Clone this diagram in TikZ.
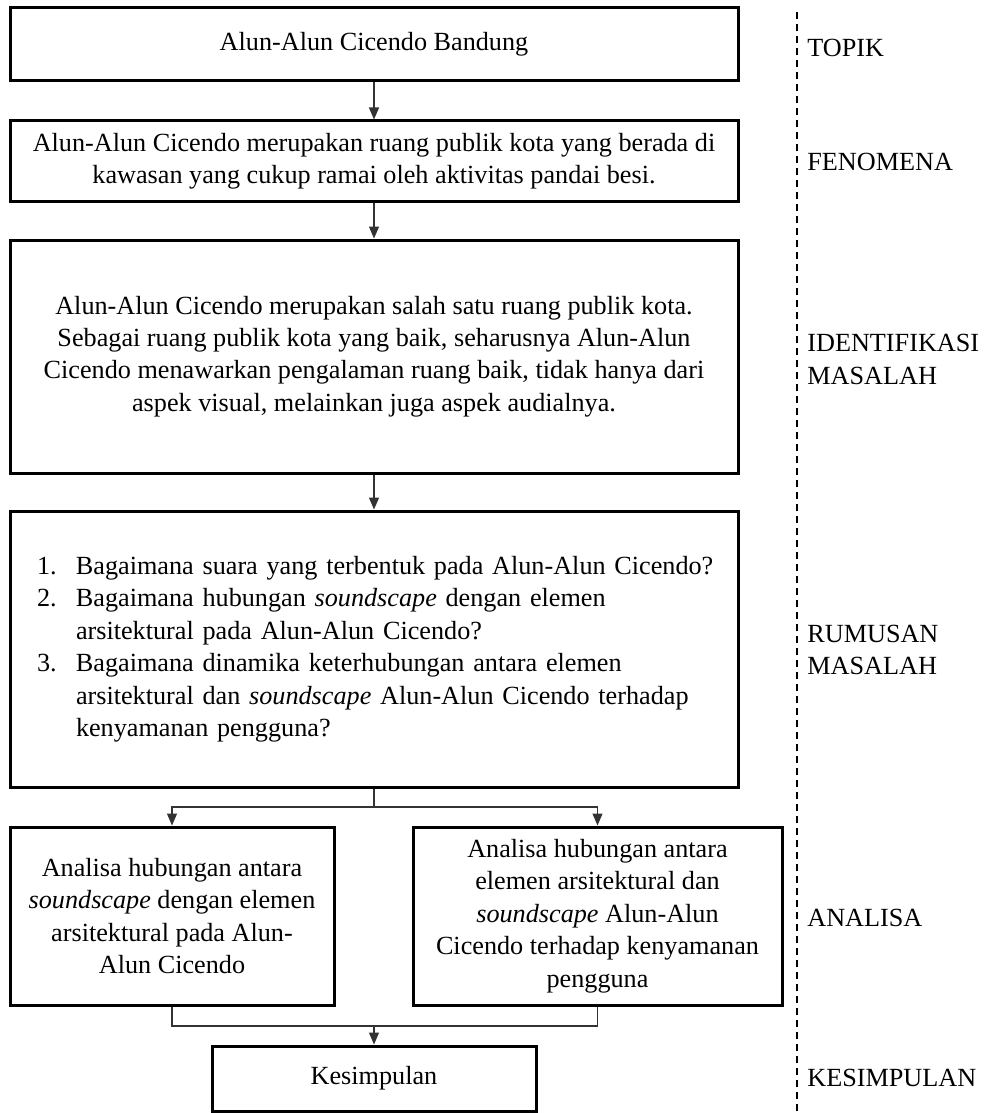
\documentclass[tikz,border=0pt]{standalone}
\usepackage{fontspec}
\setmainfont{Liberation Serif}
\usetikzlibrary{arrows.meta}

\begin{document}
\begin{tikzpicture}[
  x=0.5pt, y=-0.5pt,
  font=\fontsize{13.1}{16.2}\selectfont,
  >={Triangle[length=6pt,width=5pt]},
  box/.style={draw=black, line width=1.5pt, align=center, inner sep=0pt},
  wbox/.style={box, minimum width=364pt},
  arrow/.style={->, line width=0.6pt, black!80},
  link/.style={line width=0.6pt, black!80},
  stage/.style={anchor=west, align=left, inner sep=0pt},
  divider/.style={line width=1pt, dash pattern=on 3.5pt off 2.5pt}
]
\useasboundingbox (0,0) rectangle (985,1113);

% ---------- MAIN COLUMN ----------
\node[wbox, minimum height=36.5pt] (topik) at (374,44.5) {Alun-Alun Cicendo Bandung};
\node[wbox, minimum height=40pt] (fenomena) at (374,161)
  {Alun-Alun Cicendo merupakan ruang publik kota yang berada di\\kawasan yang cukup ramai oleh aktivitas pandai besi.};
\node[wbox, minimum height=116.5pt] (identifikasi) at (374,356.5)
  {Alun-Alun Cicendo merupakan salah satu ruang publik kota.\\Sebagai ruang publik kota yang baik, seharusnya Alun-Alun\\Cicendo menawarkan pengalaman ruang baik, tidak hanya dari\\aspek visual, melainkan juga aspek audialnya.};
\node[wbox, minimum height=138pt, text width=337pt, align=left, inner xsep=13.5pt] (rumusan) at (374,649)
  {\begin{tabular}{@{}p{19.5pt}@{}l@{}}
   1. & Bagaimana suara yang terbentuk pada Alun-Alun Cicendo?\\
   2. & Bagaimana hubungan \textit{soundscape} dengan elemen\\
      & arsitektural pada Alun-Alun Cicendo?\\
   3. & Bagaimana dinamika keterhubungan antara elemen\\
      & arsitektural dan \textit{soundscape} Alun-Alun Cicendo terhadap\\
      & kenyamanan pengguna?
   \end{tabular}};

% ---------- ANALISA ----------
\node[box, minimum width=162pt, minimum height=89pt] (analisa1) at (172,916)
  {Analisa hubungan antara\\\textit{soundscape} dengan elemen\\arsitektural pada Alun-\\Alun Cicendo};
\node[box, minimum width=184.5pt, minimum height=89pt] (analisa2) at (597.5,916)
  {Analisa hubungan antara\\elemen arsitektural dan\\\textit{soundscape} Alun-Alun\\Cicendo terhadap kenyamanan\\pengguna};
\node[box, minimum width=162pt, minimum height=32.5pt] (kesimpulan) at (374,1078.5) {Kesimpulan};

\coordinate (split) at (374,807);
\coordinate (merge) at (374,1026);

% arrows
\draw[arrow] (topik) -- (fenomena);
\draw[arrow] (fenomena) -- (identifikasi);
\draw[arrow] (identifikasi) -- (rumusan);
\draw[link] (rumusan) -- (split);
\draw[arrow] (split) -| (analisa1);
\draw[arrow] (split) -| (analisa2);
\draw[link] (analisa1) |- (merge);
\draw[link] (analisa2) |- (merge);
\draw[arrow] (merge) -- (kesimpulan);

% ---------- STAGES ----------
\coordinate (dtop) at (797,12);
\coordinate (dbot) at (797,1113);
\draw[divider] (dtop) -- (dbot);

\node[stage] (ltopik) at (807,48) {TOPIK};
\node[stage] (lfenomena) at (807,162) {FENOMENA};
\node[stage] (lidentifikasi) at (807,359.5) {IDENTIFIKASI\\MASALAH};
\node[stage] (lrumusan) at (807,650) {RUMUSAN\\MASALAH};
\node[stage] (lanalisa) at (807,918) {ANALISA};
\node[stage] (lkesimpulan) at (807,1078) {KESIMPULAN};

\end{tikzpicture}
\end{document}
